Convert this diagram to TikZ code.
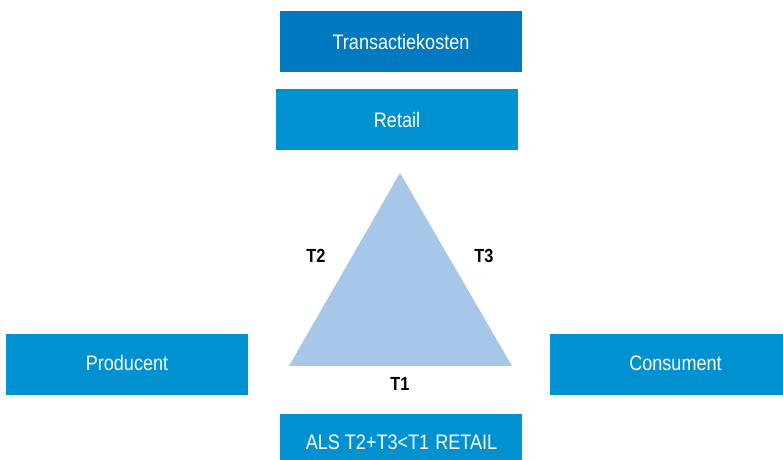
\documentclass[tikz,border=0pt]{standalone}
\usepackage{fontspec}
\setmainfont{Liberation Sans}[FakeStretch=0.86]
\definecolor{darkblue}{HTML}{0079C1}
\definecolor{midblue}{HTML}{0091D0}
\definecolor{triblue}{HTML}{A7C7E8}
\begin{document}
\begin{tikzpicture}[x=1pt,y=-1pt,
  box/.style={fill=midblue,draw=none,text=white,font=\fontsize{21}{24}\selectfont,inner sep=0pt,anchor=center},
  btext/.style={text=white,font=\fontsize{21}{24}\selectfont,inner sep=0pt},
  tlabel/.style={text=black,font=\fontsize{19}{22}\selectfont\bfseries,inner sep=0pt}]
\useasboundingbox (0,0) rectangle (783,459);
\begin{scope}
\clip (0,0) rectangle (783,459);
\node[box,fill=darkblue,minimum width=242pt,minimum height=61pt] (tk) at (401,41.5) {Transactiekosten};
\node[box,minimum width=242pt,minimum height=61pt] (ret) at (397,119.5) {Retail};
\node[box,minimum width=242pt,minimum height=61pt] (prod) at (127,364.5) {};
\node[btext] (prodt) at (127,363) {Producent};
\node[box,minimum width=251pt,minimum height=61pt] (cons) at (675.5,364.5) {};
\node[btext] (const) at (675.5,363) {Consument};
\node[box,minimum width=242pt,minimum height=61pt] (als) at (401,444.5) {};
\node[btext] (alst) at (401.5,442) {ALS T2+T3<T1\hspace{6pt}RETAIL};
\end{scope}
\coordinate (apex) at (400,173);
\coordinate (bl) at (289,366);
\coordinate (br) at (512,366);
\fill[triblue] (apex) -- (bl) -- (br) -- cycle;
\node[tlabel] (t2) at (316,256) {T2};
\node[tlabel] (t3) at (484,256) {T3};
\node[tlabel] (t1) at (400,384) {T1};
\end{tikzpicture}
\end{document}
